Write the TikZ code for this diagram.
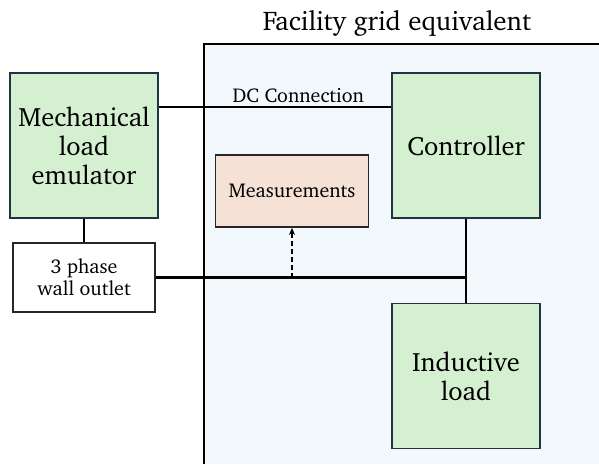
\documentclass[tikz,border=0pt]{standalone}
\usepackage[T1]{fontenc}
\usepackage{charter}
\usepackage{xcolor}
\usetikzlibrary{arrows.meta,positioning,calc}

\definecolor{gridbg}{HTML}{F3F8FC}
\definecolor{boxgreen}{HTML}{D5EFD1}
\definecolor{boxedge}{HTML}{1E3344}
\definecolor{measfill}{HTML}{F5E1D6}

\begin{document}
\begin{tikzpicture}[
  x=1pt, y=-1pt, >=Stealth,
  block/.style={draw=boxedge, line width=1.8pt, fill=boxgreen, minimum width=148pt, minimum height=145pt, font=\fontsize{26.5}{29}\selectfont, align=center, inner sep=0pt},
  plain/.style={draw=black!85, line width=1.8pt, fill=white, minimum width=142pt, minimum height=69pt, font=\fontsize{20}{22}\selectfont, align=center, inner sep=0pt},
  meas/.style={draw=black!85, line width=1.8pt, fill=measfill, minimum width=153pt, minimum height=72pt, font=\fontsize{20}{22}\selectfont, align=center, inner sep=0pt},
  wire/.style={line width=2.2pt, black}
]
\useasboundingbox (0,0) rectangle (599,464);

% facility grid region
\fill[gridbg] (204,44) rectangle (599,464);
\draw[wire] (204,464) -- (204,44) -- (599,44);
\node[font=\fontsize{27}{30}\selectfont] (title) at (397,23) {Facility grid equivalent};

\node[block] (mech) at (84,145.5) {Mechanical\\load\\emulator};
\node[block] (ctrl) at (466,145.5) {Controller};
\node[meas] (meas) at (292,191) {Measurements};
\node[plain] (outlet) at (84,277.5) {3 phase\\wall outlet};
\node[block] (ind) at (466,376) {Inductive\\load};

\coordinate (dc) at (0,107);
\coordinate (jn) at (ctrl.south |- outlet.east);

\draw[wire] (mech.east |- dc) -- node[above, pos=0.6, font=\fontsize{20}{22}\selectfont, inner sep=3pt] {DC Connection} (ctrl.west |- dc);
\draw[wire] (mech) -- (outlet);
\draw[wire] (outlet) -- (jn);
\draw[wire] (ctrl) -- (ind);
\draw[wire, dash pattern=on 5pt off 3pt, -{Stealth[length=7pt,width=6pt]}] (meas.south |- outlet.east) -- (meas.south);

\end{tikzpicture}
\end{document}
